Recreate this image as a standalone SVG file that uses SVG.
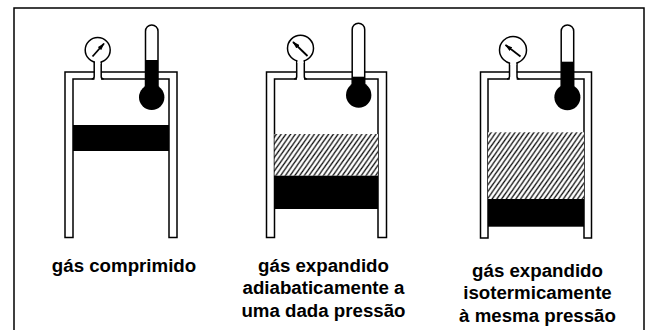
<svg xmlns="http://www.w3.org/2000/svg" width="647" height="330" viewBox="0 0 647 330">
  <defs>
    <style>
      .wall { fill: #fff; stroke: #000; stroke-width: 1.5; stroke-linejoin: miter; }
      .line { fill: none; stroke: #000; stroke-width: 1.5; }
      .dial { fill: #fff; stroke: #000; stroke-width: 1.5; }
      .tube { fill: #fff; stroke: #000; stroke-width: 1.5; }
      .ink { fill: #000; }
      .gap { fill: #fff; }
      .needle { fill: none; stroke: #000; stroke-width: 1.8; marker-end: url(#tip); }
      .hatch { fill: url(#diag); }
      .label { font-family: "Liberation Sans", Arial, sans-serif; font-weight: bold; font-size: 18.7px; fill: #000; text-anchor: middle; }
    </style>
    <!-- diagonal hatching for the expanded gas volume -->
    <pattern id="diag" patternUnits="userSpaceOnUse" width="5.5" height="5.5" patternTransform="rotate(-10)">
      <rect width="5.5" height="5.5" fill="#fff"/>
      <path d="M-1,1 L1,-1 M0,5.5 L5.5,0 M4.5,6.5 L6.5,4.5" stroke="#000" stroke-width="1.2"/>
    </pattern>
    <!-- pressure gauge needle head -->
    <marker id="tip" viewBox="0 0 10 6" refX="9" refY="3" markerWidth="4.2" markerHeight="2.8" orient="auto" markerUnits="strokeWidth">
      <path d="M0,0 L10,3 L0,6 Z" fill="#000"/>
    </marker>
  </defs>

  <!-- frame -->
  <rect x="14" y="8" width="630" height="330" fill="#fff" stroke="#000" stroke-width="1.5"/>

  <!-- cylinder 1: compressed gas -->
  <g id="cylinder-compressed">
    <path class="wall" d="M65,237.5 V72 H177 V237.5 H169 V79 H73 V237.5 Z"/>
    <rect class="ink" x="73" y="125" width="96" height="26"/>
    <g id="gauge-1">
      <rect class="gap" x="94.5" y="60" width="6.5" height="20"/>
      <path class="line" d="M94.2,62 V76.5 Q94.2,79 91.7,79 M101.2,62 V76.5 Q101.2,79 103.7,79"/>
      <circle class="dial" cx="97.7" cy="50" r="12.5"/>
      <rect class="gap" x="95" y="60" width="5.4" height="4"/>
      <line class="needle" x1="92.5" y1="56.5" x2="104" y2="43.5"/>
    </g>
    <g id="thermometer-1">
      <path class="tube" d="M145.5,100 V31.25 A6.25,6.25 0 0 1 158,31.25 V100 Z"/>
      <rect class="ink" x="145.5" y="60" width="12.5" height="36"/>
      <circle class="ink" cx="151.7" cy="97.3" r="12.7"/>
    </g>
  </g>

  <!-- cylinder 2: adiabatic expansion -->
  <g id="cylinder-adiabatic">
    <path class="wall" d="M266.5,237.5 V72 H386.5 V237.5 H378 V79 H274.5 V237.5 Z"/>
    <rect class="hatch" x="274.5" y="134" width="103.5" height="41.7"/>
    <rect class="ink" x="274.5" y="175.7" width="103.5" height="33.3"/>
    <g id="gauge-2">
      <rect class="gap" x="297" y="60" width="7" height="20"/>
      <path class="line" d="M296.7,60 V76.5 Q296.7,79 294.2,79 M304.3,60 V76.5 Q304.3,79 306.8,79"/>
      <circle class="dial" cx="300.5" cy="48.3" r="13"/>
      <rect class="gap" x="297.5" y="59" width="6" height="4"/>
      <line class="needle" x1="307.5" y1="56" x2="293" y2="42"/>
    </g>
    <g id="thermometer-2">
      <path class="tube" d="M352.2,98 V29.5 A6.25,6.25 0 0 1 364.7,29.5 V98 Z"/>
      <rect class="ink" x="352.2" y="76.7" width="12.5" height="18"/>
      <circle class="ink" cx="358.7" cy="95" r="12.7"/>
    </g>
  </g>

  <!-- cylinder 3: isothermal expansion -->
  <g id="cylinder-isothermal">
    <path class="wall" d="M480.5,238 V72 H591.5 V238 H584 V79 H488 V238 Z"/>
    <rect class="hatch" x="488" y="132.3" width="96" height="66.7"/>
    <rect class="ink" x="488" y="199" width="96" height="27.7"/>
    <g id="gauge-3">
      <rect class="gap" x="509.7" y="60" width="7" height="20"/>
      <path class="line" d="M509.5,62 V76.5 Q509.5,79 507,79 M517,62 V76.5 Q517,79 519.5,79"/>
      <circle class="dial" cx="513" cy="50" r="13.5"/>
      <rect class="gap" x="510.2" y="61" width="6" height="4"/>
      <line class="needle" x1="520.5" y1="56.5" x2="505.5" y2="45"/>
    </g>
    <g id="thermometer-3">
      <path class="tube" d="M561.2,100 V31.25 A6.25,6.25 0 0 1 573.7,31.25 V100 Z"/>
      <rect class="ink" x="561.2" y="61.7" width="12.5" height="34"/>
      <circle class="ink" cx="567.4" cy="97.3" r="13"/>
    </g>
  </g>

  <!-- captions -->
  <g id="captions">
    <text class="label" x="124" y="271.5">gás comprimido</text>
    <text class="label" x="323.5" y="271.5">gás expandido</text>
    <text class="label" x="323.5" y="294">adiabaticamente a</text>
    <text class="label" x="323.5" y="316.5">uma dada pressão</text>
    <text class="label" x="537.5" y="276.5">gás expandido</text>
    <text class="label" x="537.5" y="299">isotermicamente</text>
    <text class="label" x="537.5" y="321.5">à mesma pressão</text>
  </g>
</svg>
